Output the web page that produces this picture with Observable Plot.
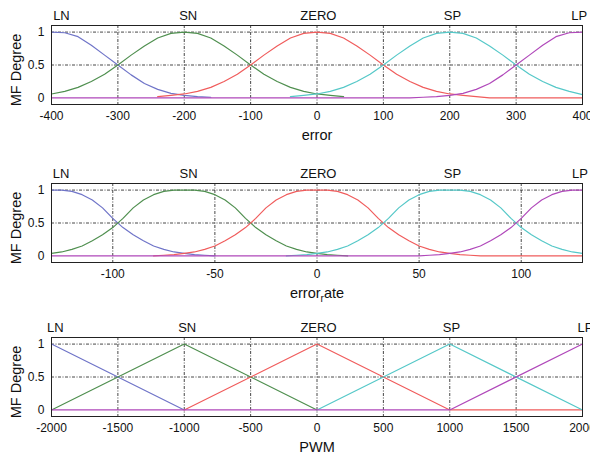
<!DOCTYPE html>
<html>
<head>
<meta charset="utf-8">
<script src="https://cdn.jsdelivr.net/npm/d3@7"></script>
<script src="https://cdn.jsdelivr.net/npm/@observablehq/plot@0.6"></script>
<style>
  html, body { margin: 0; padding: 0; background: #fff; }
  #chart { width: 590px; height: 454px; overflow: hidden; }
  #chart svg { display: block; }
</style>
</head>
<body>
<div id="chart"></div>
<script>
// ---- membership-function names and colours ----
const mfNames = ["LN", "SN", "ZERO", "SP", "LP"];
const mfColors = ["#6f74c8", "#4f8f4f", "#f05c5c", "#55c8c8", "#b048ba"];

// ---- panel 1 : error ----
const errX = [-400,-380,-360,-340,-320,-300,-280,-260,-240,-220,-200,-180,-160,-140,-120,-100,-80,-60,-40,-20,0,20,40,60,80,100,120,140,160,180,200,220,240,260,280,300,320,340,360,380,400];
const errLN = [1,0.99,0.93,0.8,0.65,0.5,0.35,0.22,0.13,0.07,0.04,0.02,0.01,
  null,null,null,null,null,null,null,null,null,null,null,null,null,null,null,null,null,null,null,null,null,null,null,null,null,null,null,null];
const errSN = [0.06,0.1,0.16,0.25,0.36,0.5,0.65,0.79,0.91,0.98,1,0.98,0.91,0.79,0.65,0.5,0.36,0.25,0.16,0.1,0.06,0.04,0.02,
  null,null,null,null,null,null,null,null,null,null,null,null,null,null,null,null,null,null];
const errZERO = [null,null,null,null,null,null,null,null,
  0.02,0.04,0.06,0.1,0.16,0.25,0.36,0.5,0.65,0.79,0.91,0.98,1,0.98,0.91,0.79,0.65,0.5,0.36,0.25,0.16,0.1,0.06,0.04,0.02,
  0,0,0,0,0,0,0,0];
const errSP = [null,null,null,null,null,null,null,null,null,null,null,null,null,null,null,null,null,null,
  0.02,0.04,0.06,0.1,0.16,0.25,0.36,0.5,0.65,0.79,0.91,0.98,1,0.98,0.91,0.79,0.65,0.5,0.36,0.25,0.16,0.1,0.05];
const errLP = [0,0,0,0,0,0,0,0,0,0,0,0,0,0,0,0,0,0,0,0,0,0,0,0,0,0,0,0,
  0.01,0.02,0.04,0.07,0.13,0.22,0.35,0.5,0.65,0.8,0.93,0.99,1];
const errTicks = [-400,-300,-200,-100,0,100,200,300,400];
const errTickLabels = ["-400","-300","-200","-100","0","100","200","300","400"];
const errLabelX = [-385,-194,2,204,395];

// ---- panel 2 : error rate ----
const rateX = [-130,-125,-120,-115,-110,-105,-100,-95,-90,-85,-80,-75,-70,-65,-60,-55,-50,-45,-40,-35,-30,-25,-20,-15,-10,-5,0,5,10,15,20,25,30,35,40,45,50,55,60,65,70,75,80,85,90,95,100,105,110,115,120,125,130];
const rateLN = [1,1,0.98,0.93,0.85,0.73,0.57,0.43,0.32,0.23,0.15,0.1,0.06,0.04,0.02,0.01,0,
  null,null,null,null,null,null,null,null,null,null,null,null,null,null,null,null,null,null,null,null,null,null,null,null,null,null,null,null,null,null,null,null,null,null,null,null];
const rateSN = [0.04,0.06,0.1,0.15,0.23,0.32,0.43,0.57,0.73,0.85,0.93,0.98,1,1,1,0.98,0.93,0.85,0.73,0.57,0.43,0.32,0.23,0.15,0.1,0.06,0.04,0.02,0.01,0,
  null,null,null,null,null,null,null,null,null,null,null,null,null,null,null,null,null,null,null,null,null,null,null];
const rateZERO = [null,null,null,null,null,null,null,null,null,null,
  0,0.01,0.02,0.04,0.06,0.1,0.15,0.23,0.32,0.43,0.57,0.73,0.85,0.93,0.98,1,1,1,0.98,0.93,0.85,0.73,0.57,0.43,0.32,0.23,0.15,0.1,0.06,0.04,0.02,0.01,0,
  0,0,0,0,0,0,0,0,0,0];
const rateSP = [null,null,null,null,null,null,null,null,null,null,null,null,null,null,null,null,null,null,null,null,null,null,null,
  0,0.01,0.02,0.04,0.06,0.1,0.15,0.23,0.32,0.43,0.57,0.73,0.85,0.93,0.98,1,1,1,0.98,0.93,0.85,0.73,0.57,0.43,0.32,0.23,0.15,0.1,0.06,0.04];
const rateLP = [0,0,0,0,0,0,0,0,0,0,0,0,0,0,0,0,0,0,0,0,0,0,0,0,0,0,0,0,0,0,0,0,0,0,0,0,0,
  0.01,0.02,0.04,0.06,0.1,0.15,0.23,0.32,0.43,0.57,0.73,0.85,0.93,0.98,1,1];
const rateTicks = [-100,-50,0,50,100];
const rateTickLabels = ["-100","-50","0","50","100"];
const rateLabelX = [-125.3,-62.9,0.7,66.3,128.8];

// ---- panel 3 : PWM ----
const pwmX = [-2000,-1000,0,1000,2000];
const pwmLN = [1,0,null,null,null];
const pwmSN = [0,1,0,null,null];
const pwmZERO = [null,0,1,0,0];
const pwmSP = [null,null,0,1,0];
const pwmLP = [0,0,0,0,1];
const pwmTicks = [-2000,-1500,-1000,-500,0,500,1000,1500,2000];
const pwmTickLabels = ["-2000","-1500","-1000","-500","0","500","1000","1500","2000"];
const pwmLabelX = [-1972,-978,11,1013,2023];

// ---- shared y axis ----
const yTicks = [0, 0.5, 1];
const yTickLabels = ["0", "0.5", "1"];
const yGrid = [0.5, 1];

const FONT = "'Liberation Sans', Arial, Helvetica, sans-serif";

function rowsFor(xs, seriesList) {
  const rows = [];
  seriesList.forEach((vals, k) => {
    xs.forEach((xv, i) => rows.push({x: xv, y: vals[i], name: mfNames[k]}));
  });
  return rows;
}

function panel({xs, series, domain, ticks, tickLabels, labelX, xLabel, height, marginTop, marginBottom}) {
  const rows = rowsFor(xs, series);
  return Plot.plot({
    width: 590,
    height,
    marginLeft: 51,
    marginRight: 8,
    marginTop,
    marginBottom,
    style: {fontFamily: FONT, fontSize: "12px", color: "#111", background: "#fff", overflow: "visible"},
    x: {domain, ticks, tickFormat: d => tickLabels[ticks.indexOf(d)], tickSize: 0, tickPadding: 7, label: null},
    y: {domain: [-0.1, 1.1], ticks: yTicks, tickFormat: d => yTickLabels[yTicks.indexOf(d)], tickSize: 0, tickPadding: 7, label: null},
    color: {domain: mfNames, range: mfColors},
    marks: [
      Plot.ruleX(ticks, {stroke: "#333", strokeWidth: 0.9, strokeDasharray: "3,1.5,1,1.5"}),
      Plot.ruleY(yGrid, {stroke: "#333", strokeWidth: 0.9, strokeDasharray: "3,1.5,1,1.5"}),
      Plot.line(rows, {x: "x", y: "y", z: "name", stroke: "name", strokeWidth: 1.2}),
      Plot.frame({stroke: "#222", strokeWidth: 1}),
      Plot.text(mfNames, {x: labelX, text: d => d, frameAnchor: "top", lineAnchor: "middle", textAnchor: "middle", dy: -9.5, fontSize: 13, fill: "#111"}),
      Plot.text([xLabel], {text: d => d, frameAnchor: "bottom", lineAnchor: "middle", textAnchor: "middle", dy: 31, fontSize: 14.5, fill: "#111"}),
      Plot.text(["MF Degree"], {text: d => d, frameAnchor: "left", lineAnchor: "middle", textAnchor: "middle", dx: -35, dy: 5, rotate: -90, fontSize: 14.5, fill: "#111"})
    ]
  });
}

const chart = document.getElementById("chart");
chart.appendChild(panel({xs: errX, series: [errLN, errSN, errZERO, errSP, errLP], domain: [-400, 400],
  ticks: errTicks, tickLabels: errTickLabels, labelX: errLabelX, xLabel: "error", height: 158, marginTop: 25, marginBottom: 54}));
chart.appendChild(panel({xs: rateX, series: [rateLN, rateSN, rateZERO, rateSP, rateLP], domain: [-130, 130],
  ticks: rateTicks, tickLabels: rateTickLabels, labelX: rateLabelX, xLabel: "error_rate", height: 154, marginTop: 25, marginBottom: 50}));
chart.appendChild(panel({xs: pwmX, series: [pwmLN, pwmSN, pwmZERO, pwmSP, pwmLP], domain: [-2000, 2000],
  ticks: pwmTicks, tickLabels: pwmTickLabels, labelX: pwmLabelX, xLabel: "PWM", height: 142, marginTop: 25, marginBottom: 38}));

// subscript "r" in error_rate
d3.select(chart).selectAll("text").filter(function() { return this.textContent === "error_rate"; })
  .each(function() {
    const t = d3.select(this);
    t.text(null);
    t.append("tspan").text("error");
    t.append("tspan").attr("dy", 4).attr("font-size", "10px").text("r");
    t.append("tspan").attr("dy", -4).text("ate");
  });
</script>
</body>
</html>
